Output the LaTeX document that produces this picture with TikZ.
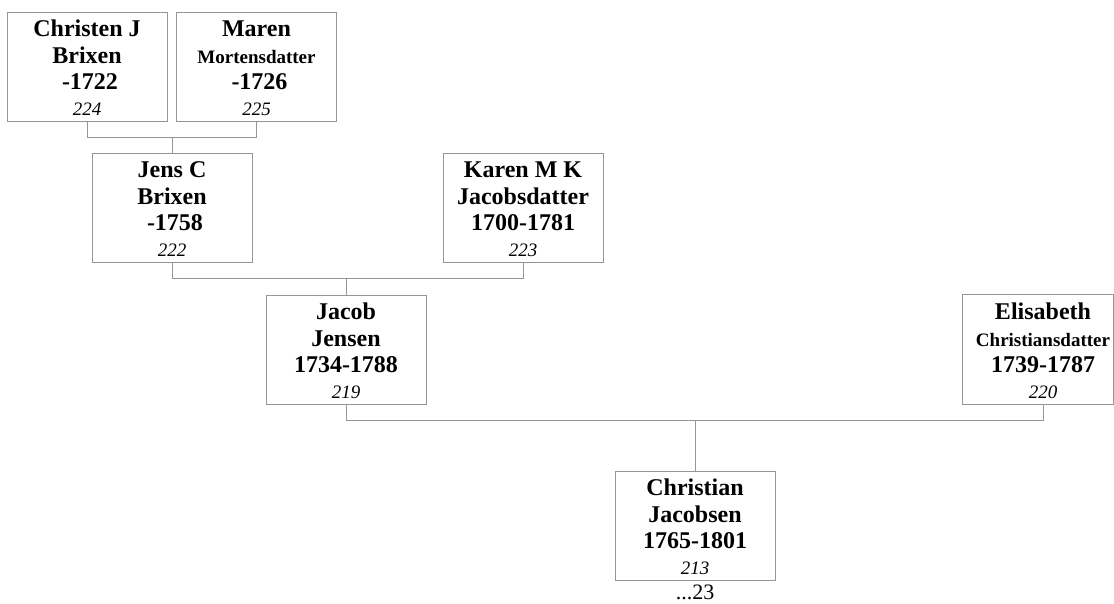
\documentclass[tikz,border=0pt]{standalone}
\usepackage{fontspec}
\setmainfont{Liberation Serif}
\usetikzlibrary{calc}
\definecolor{linegray}{RGB}{150,150,150}
\tikzset{
  card/.style={draw=linegray, line width=1pt, minimum width=160pt, minimum height=109pt, inner sep=0pt},
  hiddencard/.style={card, draw=none},
  cardtext/.style={inner sep=0pt, anchor=base, font=\fontsize{24}{24}\selectfont\bfseries},
  cardsmall/.style={inner sep=0pt, anchor=base, font=\fontsize{19}{19}\selectfont\bfseries},
  cardnum/.style={inner sep=0pt, anchor=base, font=\fontsize{19}{19}\selectfont\itshape},
  conn/.style={draw=linegray, line width=1pt},
}
% name, card style, centre x, top y, line 1, style of line 2, line 2, line 3, number
\newcommand\famcard[9]{%
  \node[#2] (#1) at (#3,#4+54.5) {};
  \node[cardtext] (#1-a) at (#3,#4+24) {#5};
  \node[#6] (#1-b) at (#3,#4+51) {#7};
  \node[cardtext] (#1-c) at (#3,#4+77.5) {#8};
  \node[cardnum] (#1-d) at (#3,#4+103) {#9};
}
\begin{document}
\begin{tikzpicture}[x=1pt,y=-1pt]
  \fill[white] (0,0) rectangle (1114,603);
  \useasboundingbox (0,0) rectangle (1114,603);

  \famcard{christen}{card}{87}{12}{Christen J}{cardtext}{Brixen}{\ -1722}{224\ }
  \famcard{maren}{card}{256.5}{12}{Maren}{cardsmall}{Mortensdatter}{\ -1726}{225\ }
  \famcard{jens}{card}{172}{153}{Jens C}{cardtext}{Brixen}{\ -1758}{222\ }
  \famcard{karen}{card}{523}{153}{Karen M K}{cardtext}{Jacobsdatter}{1700-1781}{223\ }
  \famcard{jacob}{card}{346}{295}{Jacob}{cardtext}{Jensen}{1734-1788}{219\ }
  \famcard{eli}{hiddencard}{1043}{295}{Elisabeth}{cardsmall}{Christiansdatter}{1739-1787}{220\ }
  \famcard{christian}{card}{695}{471}{Christian}{cardtext}{Jacobsen}{1765-1801}{213\ }

  % visible frame of the card cut by the right edge of the page
  \draw[conn] (eli.north west) rectangle ([xshift=-10pt]eli.south east);

  \node[inner sep=0pt, anchor=base, font=\fontsize{22}{22}\selectfont] (christian-more)
    at ($(christian.south)+(0,19)$) {...23};

  \draw[conn] (christen.south) -- ++(0,16) coordinate (j1) -| (maren.south);
  \draw[conn] (jens.north) -- (jens.north |- j1);
  \draw[conn] (jens.south) -- ++(0,16) coordinate (j2) -| (karen.south);
  \draw[conn] (jacob.north) -- (jacob.north |- j2);
  \draw[conn] (jacob.south) -- ++(0,16) coordinate (j3) -| (eli.south);
  \draw[conn] (christian.north) -- (christian.north |- j3);
\end{tikzpicture}
\end{document}
